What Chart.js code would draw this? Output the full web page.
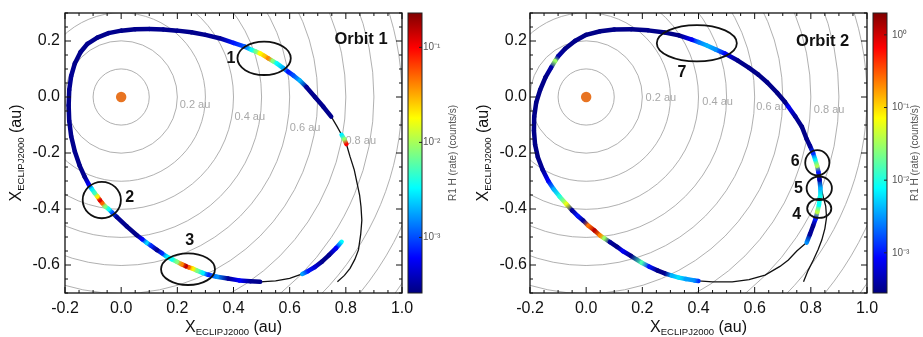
<!DOCTYPE html>
<html>
<head>
<meta charset="utf-8">
<script src="https://cdn.jsdelivr.net/npm/chart.js@4.4.1/dist/chart.umd.min.js"></script>
<style>
html,body{margin:0;padding:0;background:#fff;width:923px;height:337px;overflow:hidden}
canvas{position:absolute;top:0}
#c1{left:0}
#c2{left:460px}
</style>
</head>
<body>
<canvas id="c1" width="460" height="337"></canvas>
<canvas id="c2" width="463" height="337"></canvas>
<script>
// ---------------- data ----------------
const xTicks = [-0.2, 0.0, 0.2, 0.4, 0.6, 0.8, 1.0];
const yTicks = [-0.6, -0.4, -0.2, 0.0, 0.2];
const distanceRings = [0.1, 0.2, 0.3, 0.4, 0.5, 0.6, 0.7, 0.8, 0.9, 1.0, 1.1, 1.2, 1.3];
const ringLabels = ['0.2 au', '0.4 au', '0.6 au', '0.8 au'];
const sunX = [0.0];
const sunY = [0.0];

// Orbit 1 trajectory (au) and R1 H rate (counts/s), null = no rate data
const orbit1X = [0.785,0.765,0.74,0.715,0.69,0.665,0.645,0.60,0.55,0.495,0.46,0.42,0.38,0.34,0.31,0.29,0.27,0.255,0.24,0.23,0.215,0.198,0.18,0.162,0.145,0.127,0.105,0.09,0.075,0.055,0.02,-0.016,-0.032,-0.045,-0.058,-0.068,-0.076,-0.085,-0.095,-0.105,-0.115,-0.13,-0.148,-0.165,-0.178,-0.185,-0.187,-0.185,-0.178,-0.165,-0.145,-0.12,-0.085,-0.045,0.0,0.05,0.10,0.15,0.20,0.25,0.30,0.35,0.40,0.44,0.465,0.48,0.494,0.51,0.524,0.54,0.554,0.577,0.595,0.613,0.637,0.66,0.69,0.72,0.748,0.768,0.785,0.795,0.802,0.815,0.83,0.84,0.849,0.854,0.857,0.853,0.845,0.832,0.815,0.795,0.77];
const orbit1Y = [-0.517,-0.54,-0.565,-0.588,-0.607,-0.622,-0.632,-0.648,-0.657,-0.66,-0.658,-0.655,-0.648,-0.642,-0.635,-0.628,-0.62,-0.613,-0.608,-0.604,-0.597,-0.588,-0.579,-0.57,-0.558,-0.546,-0.53,-0.52,-0.508,-0.493,-0.462,-0.428,-0.413,-0.4,-0.39,-0.378,-0.368,-0.355,-0.342,-0.328,-0.313,-0.285,-0.245,-0.195,-0.14,-0.085,-0.03,0.025,0.075,0.12,0.16,0.19,0.212,0.228,0.237,0.242,0.243,0.241,0.237,0.231,0.222,0.21,0.193,0.18,0.168,0.162,0.156,0.147,0.138,0.128,0.12,0.103,0.09,0.077,0.058,0.035,0.0,-0.035,-0.07,-0.104,-0.135,-0.152,-0.168,-0.213,-0.26,-0.308,-0.35,-0.392,-0.44,-0.49,-0.546,-0.58,-0.612,-0.637,-0.66];
const orbit1Rate = [3.3e-3,6e-4,2.9e-4,2.8e-4,4.5e-4,7e-4,1.8e-3,null,null,2.8e-4,3e-4,6e-4,3e-4,1.6e-3,8e-4,3e-3,7e-3,0.02,0.05,0.15,0.04,8e-3,3.5e-3,3e-3,8e-4,3e-4,8e-4,2.5e-3,6e-4,2.8e-4,2.8e-4,3e-4,1e-3,3.5e-3,8e-3,0.05,0.12,0.02,5e-3,3e-3,6e-4,2.9e-4,
  2.8e-4,2.9e-4,2.8e-4,2.9e-4,2.8e-4,2.9e-4,3e-4,2.8e-4,2.8e-4,2.9e-4,2.8e-4,2.9e-4,2.8e-4,2.8e-4,2.9e-4,2.8e-4,2.9e-4,2.8e-4,2.9e-4,3e-4,
  7e-4,1.1e-3,3.5e-3,7e-3,0.018,0.025,0.04,8e-3,3.5e-3,2e-3,7e-4,1e-3,2e-3,3e-4,2.8e-4,2.9e-4,2.8e-4,null,3e-3,9e-3,0.1,
  null,null,null,null,null,null,null,null,null,null,null,null];

// Orbit 2 trajectory and rate
const orbit2X = [0.785,0.797,0.808,0.817,0.823,0.829,0.833,0.834,0.831,0.827,0.822,0.815,0.808,0.797,0.785,0.768,0.745,0.72,0.708,0.68,0.645,0.613,0.58,0.54,0.494,0.46,0.43,0.40,0.376,0.33,0.281,0.22,0.16,0.10,0.05,0.0,-0.04,-0.075,-0.1,-0.111,-0.125,-0.145,-0.164,-0.178,-0.185,-0.186,-0.182,-0.172,-0.155,-0.135,-0.115,-0.095,-0.07,-0.05,-0.03,-0.01,0.008,0.03,0.05,0.065,0.085,0.11,0.13,0.16,0.198,0.225,0.255,0.28,0.305,0.33,0.355,0.385,0.40,0.45,0.52,0.58,0.637,0.69,0.72,0.75,0.785];
const orbit2Y = [-0.52,-0.49,-0.46,-0.435,-0.41,-0.385,-0.355,-0.325,-0.295,-0.268,-0.245,-0.222,-0.2,-0.175,-0.15,-0.106,-0.07,-0.035,-0.018,0.015,0.052,0.08,0.104,0.13,0.155,0.17,0.184,0.196,0.205,0.22,0.23,0.238,0.242,0.241,0.235,0.222,0.2,0.172,0.145,0.128,0.105,0.07,0.025,-0.02,-0.07,-0.12,-0.17,-0.215,-0.26,-0.3,-0.33,-0.355,-0.383,-0.405,-0.425,-0.442,-0.46,-0.477,-0.495,-0.505,-0.518,-0.535,-0.55,-0.568,-0.592,-0.606,-0.62,-0.63,-0.638,-0.645,-0.65,-0.655,-0.657,-0.66,-0.66,-0.652,-0.636,-0.605,-0.582,-0.55,-0.52];
const orbit2Rate = [3e-3,3.5e-4,3.2e-4,1e-3,0.04,8e-3,9e-3,4e-3,4e-4,1e-3,0.035,7e-3,1.3e-3,3.5e-4,3e-4,3e-4,3.5e-4,8e-4,3e-4,3e-4,3.1e-4,3e-4,3.1e-4,3e-4,8e-4,3e-3,4e-3,2.5e-3,8e-4,3e-4,3e-4,3.1e-4,3e-4,3.1e-4,3e-4,3e-4,3.1e-4,3e-4,4e-4,0.03,4e-4,3e-4,3.1e-4,3e-4,3.1e-4,3e-4,3.1e-4,3e-4,3.5e-4,8e-4,4e-3,0.01,0.06,3.5e-4,1e-3,3.5e-4,0.25,1.2,0.2,0.03,3.5e-4,3e-4,8e-4,3e-4,0.015,1e-3,3e-4,3.2e-4,4e-3,6e-3,3.5e-3,3e-3,1.3e-3,null,null,null,null,null,null,null,null];
const orbit2BranchX = [0.774,0.79,0.809,0.826,0.839,0.85,0.856,0.853,0.845,0.838];
const orbit2BranchY = [-0.66,-0.62,-0.582,-0.545,-0.511,-0.47,-0.43,-0.39,-0.36,-0.33];

// colour bar ranges and ticks (counts/s)
const orbit1CbMin = 2.6e-4, orbit1CbMax = 0.23;
const orbit1CbTicks = [1e-3, 1e-2, 1e-1];
const orbit2CbMin = 2.8e-4, orbit2CbMax = 2.0;
const orbit2CbTicks = [1e-3, 1e-2, 1e-1, 1];

// marked events (ellipses), in au
const orbit1EventIds = ['1', '2', '3'];
const orbit1EventX = [0.509, -0.069, 0.238];
const orbit1EventY = [0.138, -0.368, -0.615];
const orbit1EventRx = [0.095, 0.068, 0.096];
const orbit1EventRy = [0.0595, 0.065, 0.0565];
const orbit1EventLabelX = [0.391, 0.030, 0.244];
const orbit1EventLabelY = [0.136, -0.361, -0.514];
const orbit2EventIds = ['7', '6', '5', '4'];
const orbit2EventX = [0.394, 0.823, 0.830, 0.830];
const orbit2EventY = [0.192, -0.235, -0.326, -0.398];
const orbit2EventRx = [0.1425, 0.043, 0.045, 0.043];
const orbit2EventRy = [0.065, 0.045, 0.042, 0.034];
const orbit2EventLabelX = [0.341, 0.744, 0.756, 0.750];
const orbit2EventLabelY = [0.0875, -0.231, -0.326, -0.421];

// ring label anchors (au)
const orbit1RingLabelX = [0.263, 0.458, 0.655, 0.853];
const orbit1RingLabelY = [-0.029, -0.070, -0.112, -0.158];
const orbit2RingLabelX = [0.266, 0.468, 0.660, 0.865];
const orbit2RingLabelY = [-0.002, -0.017, -0.035, -0.048];

const orbitTitles = ['Orbit 1', 'Orbit 2'];
const orbitTitleX = [0.854, 0.842];
const orbitTitleY = [0.207, 0.200];

// ---------------- helpers ----------------
const FONT = '"Liberation Sans", Arial, Helvetica, sans-serif';
Chart.defaults.font.family = FONT;

function clamp01(v) { return Math.max(0, Math.min(1, v)); }
function jet(t) {
  t = clamp01(t);
  const r = clamp01(1.5 - Math.abs(4 * t - 3));
  const g = clamp01(1.5 - Math.abs(4 * t - 2));
  const b = clamp01(1.5 - Math.abs(4 * t - 1));
  return 'rgb(' + Math.round(r * 255) + ',' + Math.round(g * 255) + ',' + Math.round(b * 255) + ')';
}
function cbFrac(cb, v) { return (cb.bottom - cb.getPixelForValue(v)) / (cb.bottom - cb.top); }
const SUP = {'-': '\u207B', '0': '\u2070', '1': '\u00B9', '2': '\u00B2', '3': '\u00B3'};
function powLabel(v) {
  const e = String(Math.round(Math.log10(v)));
  return '10' + e.split('').map(c => SUP[c] || c).join('');
}
function subTitle(ctx, px, py, rotate) {
  const parts = [['X', 16, 0], ['ECLIPJ2000', 9.5, 2.5], [' (au)', 16, 0]];
  ctx.save();
  ctx.translate(px, py);
  if (rotate) ctx.rotate(-Math.PI / 2);
  let total = 0;
  const w = parts.map(p => { ctx.font = p[1] + 'px ' + FONT; const m = ctx.measureText(p[0]).width; total += m; return m; });
  let s = -total / 2;
  ctx.fillStyle = '#111';
  ctx.textAlign = 'left';
  ctx.textBaseline = 'alphabetic';
  parts.forEach((p, i) => { ctx.font = p[1] + 'px ' + FONT; ctx.fillText(p[0], s, p[2]); s += w[i]; });
  ctx.restore();
}

function makePanel(id, d, st) {
  const pts = d.xs.map((v, i) => ({x: v, y: d.ys[i]}));
  const branch = d.bx.map((v, i) => ({x: v, y: d.by[i]}));

  const decor = {
    id: 'decor' + id,
    beforeDatasetsDraw(chart) {
      const {ctx, chartArea: a, scales: {x, y}} = chart;
      ctx.save();
      ctx.beginPath(); ctx.rect(a.left, a.top, a.right - a.left, a.bottom - a.top); ctx.clip();
      ctx.strokeStyle = '#9c9c9c'; ctx.lineWidth = 0.8;
      const cx = x.getPixelForValue(sunX[0]), cy = y.getPixelForValue(sunY[0]);
      distanceRings.forEach(r => {
        const rp = x.getPixelForValue(sunX[0] + r) - cx;
        ctx.beginPath(); ctx.arc(cx, cy, rp, 0, 2 * Math.PI); ctx.stroke();
      });
      ctx.fillStyle = '#a8a8a8'; ctx.font = '11px ' + FONT;
      ctx.textAlign = 'center'; ctx.textBaseline = 'middle';
      ringLabels.forEach((t, i) => ctx.fillText(t, x.getPixelForValue(d.rlx[i]), y.getPixelForValue(d.rly[i])));
      ctx.restore();
    },
    afterDatasetsDraw(chart) {
      const {ctx, chartArea: a, scales: {x, y, cb}} = chart;
      ctx.save();
      // event ellipses
      ctx.strokeStyle = '#111'; ctx.lineWidth = 1.8;
      d.evx.forEach((ex, i) => {
        const px = x.getPixelForValue(ex), py = y.getPixelForValue(d.evy[i]);
        const rx = Math.abs(x.getPixelForValue(ex + d.evrx[i]) - px);
        const ry = Math.abs(y.getPixelForValue(d.evy[i] + d.evry[i]) - py);
        ctx.beginPath(); ctx.ellipse(px, py, rx, ry, 0, 0, 2 * Math.PI); ctx.stroke();
      });
      ctx.fillStyle = '#111'; ctx.font = 'bold 16px ' + FONT;
      ctx.textAlign = 'center'; ctx.textBaseline = 'middle';
      d.evIds.forEach((t, i) => ctx.fillText(t, x.getPixelForValue(d.evlx[i]), y.getPixelForValue(d.evly[i])));
      ctx.font = 'bold 16.5px ' + FONT;
      ctx.fillText(d.title, x.getPixelForValue(d.tx), y.getPixelForValue(d.ty));

      // frame and inward ticks
      ctx.strokeStyle = '#111'; ctx.lineWidth = 1.3;
      ctx.strokeRect(a.left, a.top, a.right - a.left, a.bottom - a.top);
      ctx.lineWidth = 1;
      ctx.beginPath();
      for (let i = -4; i <= 20; i++) {
        const v = i * 0.05;
        const major = xTicks.some(t => Math.abs(t - v) < 1e-6);
        const len = major ? 6 : 3;
        const px = x.getPixelForValue(v);
        ctx.moveTo(px, a.bottom); ctx.lineTo(px, a.bottom - len);
        ctx.moveTo(px, a.top); ctx.lineTo(px, a.top + len);
      }
      for (let i = -14; i <= 6; i++) {
        const v = i * 0.05;
        const major = yTicks.some(t => Math.abs(t - v) < 1e-6);
        const len = major ? 6 : 3;
        const py = y.getPixelForValue(v);
        ctx.moveTo(a.left, py); ctx.lineTo(a.left + len, py);
        ctx.moveTo(a.right, py); ctx.lineTo(a.right - len, py);
      }
      ctx.stroke();

      // colour bar
      const bx = a.right + st.cbGap, bw = st.cbW;
      const g = ctx.createLinearGradient(0, cb.bottom, 0, cb.top);
      [0, 0.125, 0.25, 0.375, 0.5, 0.625, 0.75, 0.875, 1].forEach(t => g.addColorStop(t, jet(t)));
      ctx.fillStyle = g;
      ctx.fillRect(bx, cb.top, bw, cb.bottom - cb.top);
      ctx.strokeStyle = '#222'; ctx.lineWidth = 1;
      ctx.strokeRect(bx, cb.top, bw, cb.bottom - cb.top);
      ctx.beginPath();
      d.cbTicks.forEach(v => { const py = cb.getPixelForValue(v); ctx.moveTo(bx + bw, py); ctx.lineTo(bx + bw - 3, py); });
      ctx.stroke();
      // colour bar title
      ctx.save();
      ctx.translate(st.cbTitleX, (cb.top + cb.bottom) / 2);
      ctx.rotate(-Math.PI / 2);
      ctx.fillStyle = '#555'; ctx.font = '10px ' + FONT;
      ctx.textAlign = 'center'; ctx.textBaseline = 'alphabetic';
      ctx.fillText('R1 H (rate) (counts/s)', 0, 0);
      ctx.restore();

      // axis titles
      subTitle(ctx, (a.left + a.right) / 2, st.xTitleY, false);
      subTitle(ctx, st.yTitleX, (a.top + a.bottom) / 2, true);
      ctx.restore();
    }
  };

  return new Chart(document.getElementById(id), {
    type: 'scatter',
    data: {
      datasets: [
        {label: 'Sun', data: sunX.map((v, i) => ({x: v, y: sunY[i]})), pointRadius: 5.2,
         pointBackgroundColor: 'rgb(232,116,34)', pointBorderWidth: 0, order: 0},
        {label: 'R1 H rate', data: pts, showLine: true, pointRadius: 0, borderWidth: 4.5,
         borderCapStyle: 'round', borderJoinStyle: 'round', order: 1,
         segment: {
           borderColor: c => {
             const ra = d.rates[c.p0DataIndex], rb = d.rates[c.p1DataIndex];
             if (ra == null || rb == null) return 'rgba(0,0,0,0)';
             const cbs = c.chart.scales.cb;
             const gr = c.chart.ctx.createLinearGradient(c.p0.x, c.p0.y, c.p1.x + 0.01, c.p1.y + 0.01);
             gr.addColorStop(0, jet(cbFrac(cbs, ra)));
             gr.addColorStop(1, jet(cbFrac(cbs, rb)));
             return gr;
           }
         }},
        {label: 'Trajectory', data: pts, showLine: true, pointRadius: 0, borderWidth: 1.3, borderColor: '#111', order: 2},
        {label: 'Trajectory branch', data: branch, showLine: true, pointRadius: 0, borderWidth: 1.3, borderColor: '#111', order: 2}
      ]
    },
    options: {
      responsive: false,
      animation: false,
      events: [],
      layout: {padding: {top: 13, left: 0, right: 0, bottom: 0}, autoPadding: false},
      plugins: {legend: {display: false}, tooltip: {enabled: false}},
      scales: {
        x: {
          type: 'linear', min: -0.2, max: 1.0,
          afterBuildTicks: s => { s.ticks = xTicks.map(v => ({value: v})); },
          afterFit: s => { s.height = 44; s.paddingLeft = 0; s.paddingRight = 0; },
          grid: {display: false, drawTicks: false}, border: {display: false},
          ticks: {padding: 6, color: '#111', font: {size: 16}, maxRotation: 0, callback: v => v.toFixed(1)}
        },
        y: {
          type: 'linear', min: -0.7, max: 0.3,
          afterBuildTicks: s => { s.ticks = yTicks.map(v => ({value: v})); },
          afterFit: s => { s.width = st.yAxisW; s.paddingTop = 0; s.paddingBottom = 0; },
          grid: {display: false, drawTicks: false}, border: {display: false},
          ticks: {padding: st.yPad, color: '#111', font: {size: 16}, callback: v => v.toFixed(1)}
        },
        cb: {
          type: 'logarithmic', position: 'right', min: d.cbMin, max: d.cbMax,
          afterBuildTicks: s => { s.ticks = d.cbTicks.map(v => ({value: v})); },
          afterFit: s => { s.width = st.cbAxisW; s.paddingTop = 0; s.paddingBottom = 0; },
          grid: {display: false, drawTicks: false}, border: {display: false},
          ticks: {padding: st.cbPad, color: '#555', font: {size: 10}, callback: v => powLabel(v)}
        }
      }
    },
    plugins: [decor]
  });
}

makePanel('c1', {
  xs: orbit1X, ys: orbit1Y, rates: orbit1Rate, bx: [], by: [],
  cbMin: orbit1CbMin, cbMax: orbit1CbMax, cbTicks: orbit1CbTicks,
  evIds: orbit1EventIds, evx: orbit1EventX, evy: orbit1EventY, evrx: orbit1EventRx, evry: orbit1EventRy,
  evlx: orbit1EventLabelX, evly: orbit1EventLabelY,
  rlx: orbit1RingLabelX, rly: orbit1RingLabelY,
  title: orbitTitles[0], tx: orbitTitleX[0], ty: orbitTitleY[0]
}, {yAxisW: 65, yPad: 5, cbAxisW: 58, cbPad: 21, cbGap: 6, cbW: 14, cbTitleX: 456, xTitleY: 332, yTitleX: 21});

makePanel('c2', {
  xs: orbit2X, ys: orbit2Y, rates: orbit2Rate, bx: orbit2BranchX, by: orbit2BranchY,
  cbMin: orbit2CbMin, cbMax: orbit2CbMax, cbTicks: orbit2CbTicks,
  evIds: orbit2EventIds, evx: orbit2EventX, evy: orbit2EventY, evrx: orbit2EventRx, evry: orbit2EventRy,
  evlx: orbit2EventLabelX, evly: orbit2EventLabelY,
  rlx: orbit2RingLabelX, rly: orbit2RingLabelY,
  title: orbitTitles[1], tx: orbitTitleX[1], ty: orbitTitleY[1]
}, {yAxisW: 70, yPad: 3, cbAxisW: 56, cbPad: 25, cbGap: 6, cbW: 14, cbTitleX: 458, xTitleY: 332, yTitleX: 28});
</script>
</body>
</html>
